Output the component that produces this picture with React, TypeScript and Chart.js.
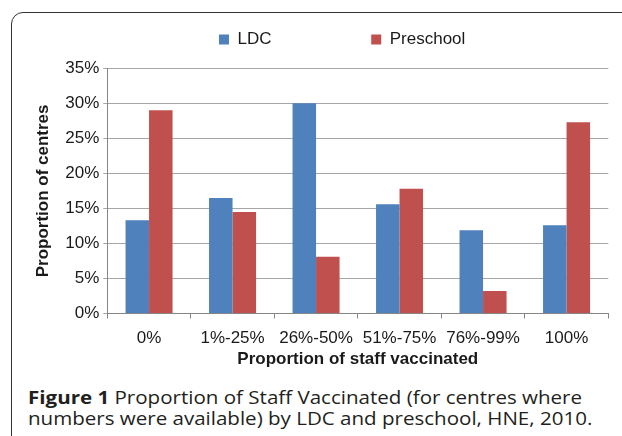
import React, { useEffect, useRef } from 'react';
import { Chart, registerables } from 'chart.js';

Chart.register(...registerables);

// ---- data ----
const categories = ['0%', '1%-25%', '26%-50%', '51%-75%', '76%-99%', '100%'];
const ldcValues = [13.3, 16.5, 30.0, 15.6, 11.9, 12.6];
const preschoolValues = [29.0, 14.5, 8.1, 17.8, 3.2, 27.3];
const seriesNames = ['LDC', 'Preschool'];
const yMin = 0;
const yMax = 35;
const yStep = 5;
const yAxisTitle = 'Proportion of centres';
const xAxisTitle = 'Proportion of staff vaccinated';
const captionLabel = 'Figure 1';
const captionLine1 = 'Proportion of Staff Vaccinated (for centres where';
const captionLine2 = 'numbers were available) by LDC and preschool, HNE, 2010.';

// ---- styles ----
const BLUE = '#4F81BD';
const RED = '#C0504D';
const GRID = '#A6A6A6';
const AXIS = '#868686';
const TEXT = '#1a1a1a';
const FONT = "'Liberation Sans', Arial, Helvetica, sans-serif";
const LEGEND_GAP = ' '.repeat(19);
const LEGEND_SHIFT = 32;

const legendShift = {
  id: 'legendShift',
  afterLayout(chart: any) {
    const lg = chart.legend;
    if (lg) {
      lg.left += LEGEND_SHIFT;
      lg.right += LEGEND_SHIFT;
    }
  },
};

export default function App() {
  const ref = useRef<HTMLCanvasElement | null>(null);

  useEffect(() => {
    if (!ref.current) return;
    const chart = new Chart(ref.current, {
      type: 'bar',
      data: {
        labels: categories,
        datasets: [
          { label: seriesNames[0], data: ldcValues, backgroundColor: BLUE, borderWidth: 0 },
          { label: seriesNames[1], data: preschoolValues, backgroundColor: RED, borderWidth: 0 },
        ],
      },
      plugins: [legendShift],
      options: {
        responsive: false,
        animation: false,
        devicePixelRatio: 1,
        datasets: { bar: { categoryPercentage: 0.563, barPercentage: 1.0 } },
        layout: { padding: { top: 7, left: 0, right: 13.7, bottom: 0 } },
        plugins: {
          tooltip: { enabled: false },
          legend: {
            position: 'top',
            labels: {
              boxWidth: 10,
              boxHeight: 10,
              padding: 10,
              color: TEXT,
              font: { family: FONT, size: 17 },
              generateLabels: (c: any) => {
                const items = (Chart.defaults.plugins.legend.labels as any).generateLabels(c);
                items.forEach((it: any, i: number) => {
                  if (i < items.length - 1) it.text = it.text + LEGEND_GAP;
                  it.lineWidth = 0;
                });
                return items;
              },
            },
          },
          subtitle: {
            display: true,
            text: '',
            weight: 500,
            position: 'top',
            font: { size: 1, lineHeight: 1 },
            padding: { top: 0, bottom: 9.3 },
          } as any,
        },
        scales: {
          x: {
            grid: {
              display: true,
              drawOnChartArea: false,
              drawTicks: true,
              tickLength: 5,
              color: AXIS,
              offset: true,
            },
            border: { display: true, color: AXIS, width: 1 },
            ticks: { color: TEXT, font: { family: FONT, size: 17 }, padding: 9.8, maxRotation: 0 },
            title: {
              display: true,
              text: xAxisTitle,
              color: TEXT,
              font: { family: FONT, size: 17, weight: 'bold' },
              padding: { top: 0, bottom: 4.8 },
            },
            afterFit: (s: any) => {
              s.height = 60.5;
            },
          },
          y: {
            min: yMin,
            max: yMax,
            grid: { color: GRID, lineWidth: 1, tickLength: 4, drawTicks: true },
            border: { display: true, color: AXIS, width: 1 },
            ticks: {
              stepSize: yStep,
              padding: 4,
              color: TEXT,
              font: { family: FONT, size: 17 },
              callback: (v: any) => v + '%',
            },
            title: {
              display: true,
              text: yAxisTitle,
              color: TEXT,
              font: { family: FONT, size: 17, weight: 'bold' },
              padding: { top: 21.5, bottom: 0 },
            },
            afterFit: (s: any) => {
              s.width = 95.3;
            },
          },
        },
      },
    } as any);
    return () => chart.destroy();
  }, []);

  return (
    <div
      style={{
        position: 'fixed',
        left: 0,
        top: 0,
        width: 622,
        height: 436,
        overflow: 'hidden',
        background: '#fff',
      }}
    >
      <div
        style={{
          position: 'absolute',
          left: 10.5,
          top: 12,
          width: 700,
          height: 600,
          border: '1.5px solid #333',
          borderTopLeftRadius: 12,
          boxSizing: 'border-box',
        }}
      />
      <canvas
        ref={ref}
        width={610}
        height={360}
        style={{ position: 'absolute', left: 12, top: 14, width: 610, height: 360 }}
      />
      <div
        style={{
          position: 'absolute',
          left: 28,
          top: 385.5,
          fontFamily: "'Open Sans', sans-serif",
          fontSize: 18.5,
          lineHeight: '21.7px',
          color: '#231f20',
          whiteSpace: 'nowrap',
          transform: 'scaleX(1.11)',
          transformOrigin: 'left top',
        }}
      >
        <div>
          <b>{captionLabel}</b> {captionLine1}
        </div>
        <div>{captionLine2}</div>
      </div>
    </div>
  );
}
